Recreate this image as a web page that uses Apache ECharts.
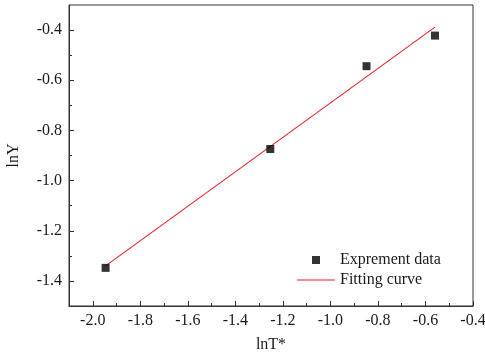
<!DOCTYPE html>
<html>
<head>
<meta charset="utf-8">
<script src="https://cdn.jsdelivr.net/npm/echarts@6/dist/echarts.min.js"></script>
<style>
html,body{margin:0;padding:0;background:#fff;}
#chart{width:485px;height:356px;}
</style>
</head>
<body>
<div id="chart"></div>
<script>
// Data
var expX = [-1.946, -1.253, -0.848, -0.560];
var expY = [-1.348, -0.874, -0.544, -0.422];
var fitX = [-1.946, -0.560];
var fitY = [-1.340, -0.388];

// Tick labels
var xMajorTicks = [-2.0, -1.8, -1.6, -1.4, -1.2, -1.0, -0.8, -0.6, -0.4];
var xMinorTicks = [-1.9, -1.7, -1.5, -1.3, -1.1, -0.9, -0.7, -0.5];
var yMajorTicks = [-1.4, -1.2, -1.0, -0.8, -0.6, -0.4];
var yMinorTicks = [-1.3, -1.1, -0.9, -0.7, -0.5];

var seriesNames = ['Exprement data', 'Fitting curve'];

var FONT = '"Liberation Serif", "Times New Roman", serif';
var AXIS_COLOR = '#333';
var TEXT_COLOR = '#1a1a1a';
var RED = '#e8202a';

var chart = echarts.init(document.getElementById('chart'), null, {renderer: 'canvas'});

function fmt(v) { return v.toFixed(1); }

var option = {
  animation: false,
  backgroundColor: '#fff',
  grid: {
    left: 69, right: 12, top: 5, bottom: 50,
    show: true, borderColor: AXIS_COLOR, borderWidth: 1,
    containLabel: false,
    outerBoundsMode: 'none'
  },
  legend: {
    orient: 'vertical',
    left: 297, top: 252,
    itemWidth: 38, itemHeight: 8, itemGap: 4,
    padding: 0,
    symbolKeepAspect: true,
    textStyle: {fontFamily: FONT, fontSize: 16, color: TEXT_COLOR},
    data: [
      {name: seriesNames[0], icon: 'path://M0,0H1V1H0Z', itemStyle: {color: '#000'}},
      {name: seriesNames[1], icon: 'path://M0,0H38V1H0Z', itemStyle: {color: RED}}
    ]
  },
  xAxis: [{
    type: 'value',
    position: 'bottom',
    min: -2.1, max: -0.4,
    name: 'lnT*',
    nameLocation: 'middle',
    nameGap: 31,
    nameTextStyle: {fontFamily: FONT, fontSize: 16, color: TEXT_COLOR},
    axisLine: {show: true, onZero: false, lineStyle: {color: AXIS_COLOR, width: 1}},
    axisTick: {show: true, inside: true, length: 5, customValues: xMajorTicks, lineStyle: {color: AXIS_COLOR}},
    axisLabel: {show: true, margin: 7, customValues: xMajorTicks, formatter: fmt,
      fontFamily: FONT, fontSize: 16, color: TEXT_COLOR},
    splitLine: {show: false}
  }, {
    type: 'value',
    position: 'bottom',
    min: -2.1, max: -0.4,
    axisLine: {show: false, onZero: false},
    axisTick: {show: true, inside: true, length: 3, customValues: xMinorTicks, lineStyle: {color: AXIS_COLOR}},
    axisLabel: {show: false},
    splitLine: {show: false}
  }],
  yAxis: [{
    type: 'value',
    position: 'left',
    min: -1.5, max: -0.3,
    name: 'lnY',
    nameLocation: 'middle',
    nameGap: 47,
    nameTextStyle: {fontFamily: FONT, fontSize: 16, color: TEXT_COLOR},
    axisLine: {show: true, onZero: false, lineStyle: {color: AXIS_COLOR, width: 1}},
    axisTick: {show: true, inside: true, length: 5, customValues: yMajorTicks, lineStyle: {color: AXIS_COLOR}},
    axisLabel: {show: true, margin: 7, customValues: yMajorTicks, formatter: fmt,
      fontFamily: FONT, fontSize: 16, color: TEXT_COLOR},
    splitLine: {show: false}
  }, {
    type: 'value',
    position: 'left',
    min: -1.5, max: -0.3,
    axisLine: {show: false, onZero: false},
    axisTick: {show: true, inside: true, length: 3, customValues: yMinorTicks, lineStyle: {color: AXIS_COLOR}},
    axisLabel: {show: false},
    splitLine: {show: false}
  }],
  series: [{
    name: seriesNames[0],
    type: 'scatter',
    xAxisIndex: 0, yAxisIndex: 0,
    symbol: 'rect',
    symbolSize: 8,
    itemStyle: {color: '#000'},
    z: 3,
    data: expX.map(function (x, i) { return [x, expY[i]]; })
  }, {
    name: seriesNames[1],
    type: 'line',
    xAxisIndex: 0, yAxisIndex: 0,
    symbol: 'none',
    showSymbol: false,
    lineStyle: {color: RED, width: 1.1},
    itemStyle: {color: RED},
    z: 2,
    data: fitX.map(function (x, i) { return [x, fitY[i]]; })
  }]
};

chart.setOption(option);
</script>
</body>
</html>
